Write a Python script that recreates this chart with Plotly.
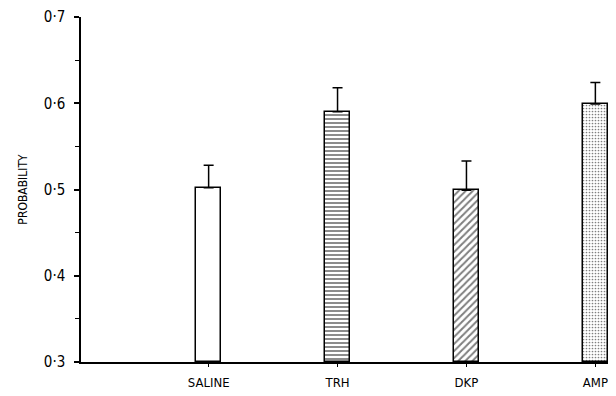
import plotly.graph_objects as go

categories = ["SALINE", "TRH", "DKP", "AMP"]
means = [0.502, 0.590, 0.499, 0.599]
err_plus = [0.026, 0.028, 0.034, 0.025]
tick_vals = [0.3, 0.4, 0.5, 0.6, 0.7]
tick_labels = ["0·3", "0·4", "0·5", "0·6", "0·7"]
shapes = ["", "-", "/", "."]

FONT = "Liberation Sans Narrow, DejaVu Sans Condensed, Arial Narrow, sans-serif"

fig = go.Figure()
fig.add_trace(go.Bar(
    x=list(range(len(categories))),
    y=[m - 0.3 for m in means],
    base=0.3,
    width=0.19,
    marker=dict(
        color="white",
        line=dict(color="black", width=1.5),
        pattern=dict(shape=shapes, fgcolor="black", bgcolor="white",
                     size=[6, 4, 5, 3], solidity=[0.3, 0.45, 0.4, 0.25]),
    ),
    error_y=dict(type="data", symmetric=False, array=err_plus,
                 arrayminus=[0, 0, 0, 0], color="black", thickness=1.5, width=5),
    showlegend=False,
))

# page body has an 8px default margin, so the figure is sized to fill the rest
fig.update_layout(
    width=608, height=388,
    margin=dict(l=73, r=0, t=9, b=34, autoexpand=False),
    paper_bgcolor="white", plot_bgcolor="white",
    font=dict(family=FONT, color="black"),
    bargap=0,
)
fig.update_xaxes(
    range=[-0.99, 3.16],
    tickmode="array", tickvals=list(range(len(categories))), ticktext=categories,
    showline=True, linecolor="black", linewidth=1.5,
    ticks="outside", ticklen=3, tickcolor="black", tickwidth=1,
    showgrid=False, zeroline=False,
    tickfont=dict(size=13, family=FONT),
    ticklabelstandoff=5,
)
fig.update_yaxes(
    range=[0.3, 0.7],
    tickmode="array", tickvals=tick_vals, ticktext=tick_labels,
    showline=True, linecolor="black", linewidth=1.5,
    ticks="outside", ticklen=5, tickcolor="black", tickwidth=1.5,
    minor=dict(tickvals=[0.35, 0.45, 0.55, 0.65], ticks="outside", ticklen=4,
               tickcolor="black", tickwidth=1),
    showgrid=False, zeroline=False,
    tickfont=dict(size=15, family=FONT),
    ticklabelstandoff=6,
    title=dict(text="PROBABILITY", font=dict(size=12, family=FONT), standoff=14),
)

fig.write_html("out.html")
